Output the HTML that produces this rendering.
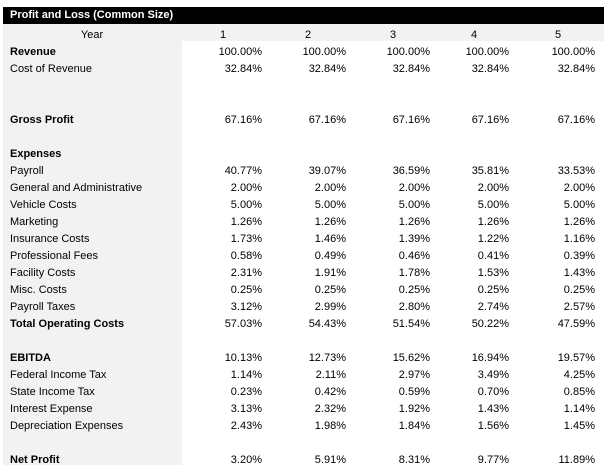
<!DOCTYPE html><html><head><style>
body{margin:0;width:612px;height:472px;background:#fff;font-family:"Liberation Sans",Arial,sans-serif;font-size:11px;color:#000;position:relative;overflow:hidden}
div{position:absolute;white-space:nowrap}
.l{left:10px}
.v{text-align:right;width:70px}
.b{font-weight:bold}
</style></head><body>
<div style="left:3px;top:7px;width:601px;height:17px;background:#000;color:#fff;font-weight:bold;line-height:17px;padding-left:7px;box-sizing:border-box">Profit and Loss (Common Size)</div>
<div style="left:3px;top:24px;width:601px;height:17px;background:#f2f2f2"></div>
<div style="left:3px;top:41px;width:179px;height:424px;background:#f2f2f2"></div>
<div id="c"></div>
<script>
var rows=[["Year",["1","2","3","4","5"],0,1],
["Revenue",["100.00%","100.00%","100.00%","100.00%","100.00%"],1],
["Cost of Revenue",["32.84%","32.84%","32.84%","32.84%","32.84%"]],
null,null,
["Gross Profit",["67.16%","67.16%","67.16%","67.16%","67.16%"],1],
null,
["Expenses",[],1],
["Payroll",["40.77%","39.07%","36.59%","35.81%","33.53%"]],
["General and Administrative",["2.00%","2.00%","2.00%","2.00%","2.00%"]],
["Vehicle Costs",["5.00%","5.00%","5.00%","5.00%","5.00%"]],
["Marketing",["1.26%","1.26%","1.26%","1.26%","1.26%"]],
["Insurance Costs",["1.73%","1.46%","1.39%","1.22%","1.16%"]],
["Professional Fees",["0.58%","0.49%","0.46%","0.41%","0.39%"]],
["Facility Costs",["2.31%","1.91%","1.78%","1.53%","1.43%"]],
["Misc. Costs",["0.25%","0.25%","0.25%","0.25%","0.25%"]],
["Payroll Taxes",["3.12%","2.99%","2.80%","2.74%","2.57%"]],
["Total Operating Costs",["57.03%","54.43%","51.54%","50.22%","47.59%"],1],
null,
["EBITDA",["10.13%","12.73%","15.62%","16.94%","19.57%"],1],
["Federal Income Tax",["1.14%","2.11%","2.97%","3.49%","4.25%"]],
["State Income Tax",["0.23%","0.42%","0.59%","0.70%","0.85%"]],
["Interest Expense",["3.13%","2.32%","1.92%","1.43%","1.14%"]],
["Depreciation Expenses",["2.43%","1.98%","1.84%","1.56%","1.45%"]],
null,
["Net Profit",["3.20%","5.91%","8.31%","9.77%","11.89%"],1]];
var right=[262,346,430,509,595],hx=[220,305,390,471,555],h="";
rows.forEach(function(r,i){if(!r)return;var t=27+i*17;
if(i==0){h+='<div style="top:'+t+'px;left:0;width:184px;text-align:center;line-height:17px">Year</div>';
r[1].forEach(function(x,j){h+='<div style="top:'+t+'px;left:'+hx[j]+'px;line-height:17px">'+x+'</div>'});return;}
h+='<div class="l'+(r[2]?' b':'')+'" style="top:'+t+'px;line-height:17px">'+r[0]+'</div>';
r[1].forEach(function(x,j){h+='<div class="v" style="top:'+t+'px;left:'+(right[j]-70)+'px;line-height:17px">'+x+'</div>'});});
document.getElementById("c").innerHTML=h;
</script>
</body></html>
